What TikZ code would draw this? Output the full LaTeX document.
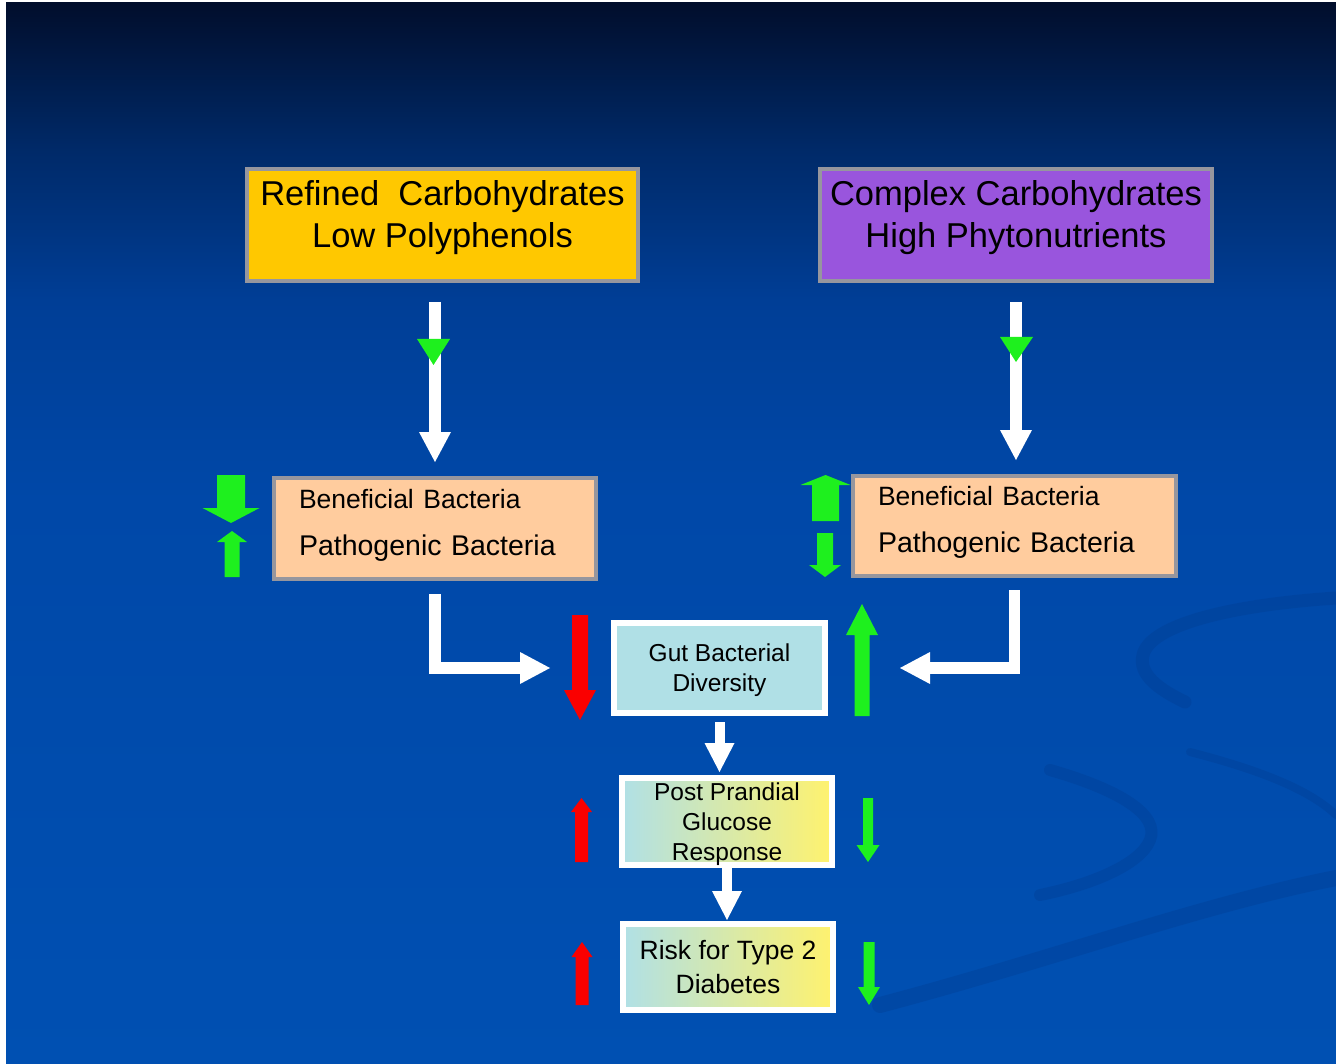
\documentclass[tikz,border=0pt]{standalone}
\usepackage{fontspec}
\setmainfont{Liberation Sans}
\usetikzlibrary{arrows.meta}

% palette
\definecolor{bgTop}{RGB}{1,14,44}
\definecolor{bgA}{RGB}{0,42,105}
\definecolor{bgB}{RGB}{0,62,150}
\definecolor{bgC}{RGB}{0,72,168}
\definecolor{bgD}{RGB}{0,80,178}
\definecolor{swoosh}{RGB}{0,58,140}
\definecolor{refined}{RGB}{255,200,0}
\definecolor{complex}{RGB}{153,85,221}
\definecolor{peach}{RGB}{255,204,158}
\definecolor{frame}{RGB}{150,150,158}
\definecolor{aqua}{RGB}{176,224,230}
\definecolor{lemon}{RGB}{255,242,110}
\definecolor{upgreen}{RGB}{30,240,30}
\definecolor{alarm}{RGB}{250,0,0}

\pgfdeclareverticalshading{slidebg}{100bp}{%
  color(0bp)=(bgD); color(25bp)=(bgD); color(51.6bp)=(bgC);
  color(61bp)=(bgB); color(68bp)=(bgA); color(75bp)=(bgTop); color(100bp)=(bgTop)}

% block arrow: colour, x, tail y, head-base y, tip y, shaft half width, head half width
\newcommand\blockarrow[7]{%
  \fill[#1] ({#2-#6},#3) -- ({#2-#6},#4) -- ({#2-#7},#4) -- (#2,#5)
    -- ({#2+#7},#4) -- ({#2+#6},#4) -- ({#2+#6},#3) -- cycle;}

\tikzset{
  foodbox/.style={draw=frame, line width=4pt, inner sep=0pt, align=center,
    text depth=21pt, font=\fontsize{34.5}{42}\selectfont},
  bugbox/.style={draw=frame, line width=4pt, fill=peach, inner sep=0pt,
    align=left, text depth=60pt, font=\fontsize{28.5}{47}\selectfont},
  outcome/.style={draw=white, line width=6pt, inner sep=0pt, align=center},
  flow/.style={draw=white, line width=11.5pt,
    -{Triangle[width=32pt,length=30pt,line width=0pt]}},
  smallflow/.style={draw=white, line width=10pt,
    -{Triangle[width=30pt,length=29pt,line width=0pt]}},
}

\begin{document}
\begin{tikzpicture}[x=1pt,y=-1pt]
\useasboundingbox (0,0) rectangle (1336,1064);
\fill[white] (0,0) rectangle (1336,1064);
\shade[shading=slidebg] (6,3) rectangle (1336,1064);

% faint background swooshes
\begin{scope}[swoosh, line cap=round, opacity=0.3]
  \draw[line width=13pt] (1336,598) .. controls (1230,605) and (1150,625) .. (1143,655)
    .. controls (1138,675) and (1160,690) .. (1185,702);
  \draw[line width=12pt] (1050,770) .. controls (1120,790) and (1160,815) .. (1150,840)
    .. controls (1140,865) and (1090,885) .. (1040,895);
  \draw[line width=8pt] (1190,752) .. controls (1260,770) and (1310,790) .. (1336,815);
  \draw[line width=16pt] (880,1005) .. controls (1050,960) and (1200,905) .. (1336,878);
\end{scope}

% boxes
\node[foodbox, fill=refined, minimum width=391pt, minimum height=112pt] (ref) at (442.5,225)
  {Refined~~Carbohydrates\\Low Polyphenols};
\node[foodbox, fill=complex, minimum width=392pt, minimum height=112pt] (comp) at (1016,225)
  {Complex Carbohydrates\\High Phytonutrients};

\node[bugbox, minimum width=322pt, minimum height=101pt, text width=272pt] (lb) at (435,528.5)
  {{\fontsize{26.5}{47}\selectfont Beneficial Bacteria}\\Pathogenic Bacteria};
\node[bugbox, minimum width=323pt, minimum height=100pt, text width=273pt] (rb) at (1014.5,526)
  {{\fontsize{26.5}{47}\selectfont Beneficial Bacteria}\\Pathogenic Bacteria};

\node[outcome, fill=aqua, minimum width=211pt, minimum height=90pt, text depth=-6.8pt,
  font=\fontsize{24.5}{30}\selectfont] (gut) at (719.5,668)
  {Gut Bacterial\\Diversity};
\node[outcome, left color=aqua, right color=lemon, minimum width=210pt, minimum height=87pt,
  text depth=-0.8pt, font=\fontsize{24.5}{30}\selectfont] (post) at (727,821.5)
  {Post Prandial\\Glucose\\Response};
\node[outcome, left color=aqua, right color=lemon, minimum width=210pt, minimum height=86pt,
  font=\fontsize{26.5}{34}\selectfont] (risk) at (728,967)
  {Risk for Type 2\\Diabetes};

% connectors
\draw[flow, shorten <=19pt, shorten >=14pt] (lb.north |- ref.south) -- (lb.north);
\draw[flow, shorten <=19pt, shorten >=14pt] (comp.south) -- (comp.south |- rb.north);
\draw[flow, shorten <=13pt, shorten >=61pt] (lb.south) |- (gut.west);
\draw[flow, shorten <=12pt, shorten >=72pt] (rb.south) |- (gut.east);
\draw[smallflow, shorten <=6pt, shorten >=3pt] (gut.south) -- (gut.south |- post.north);
\draw[smallflow, shorten <=0pt, shorten >=1pt] (post.south) -- (post.south |- risk.north);

% green heads on the top connectors
\fill[upgreen] (417,339) -- (450,339) -- (433.5,365) -- cycle;
\fill[upgreen] (1000,337) -- (1033,337) -- (1016,362) -- cycle;

% change markers
\blockarrow{upgreen}{231}{475}{508}{523}{14}{28.5}
\blockarrow{upgreen}{232}{577}{542}{531}{7.5}{15}
\blockarrow{upgreen}{825.5}{521}{485}{475}{13.5}{25}
\blockarrow{upgreen}{825}{533}{565}{577}{8}{16}
\blockarrow{alarm}{580}{615}{690}{720}{8}{16}
\blockarrow{upgreen}{862}{716}{635}{604}{7.5}{16}
\blockarrow{alarm}{581.5}{862}{812}{798}{6.5}{10.5}
\blockarrow{upgreen}{868}{798}{845}{862}{5}{11.5}
\blockarrow{alarm}{582}{1005}{957}{942}{6.5}{10.5}
\blockarrow{upgreen}{869}{942}{987}{1005}{5.5}{11}
\end{tikzpicture}
\end{document}
